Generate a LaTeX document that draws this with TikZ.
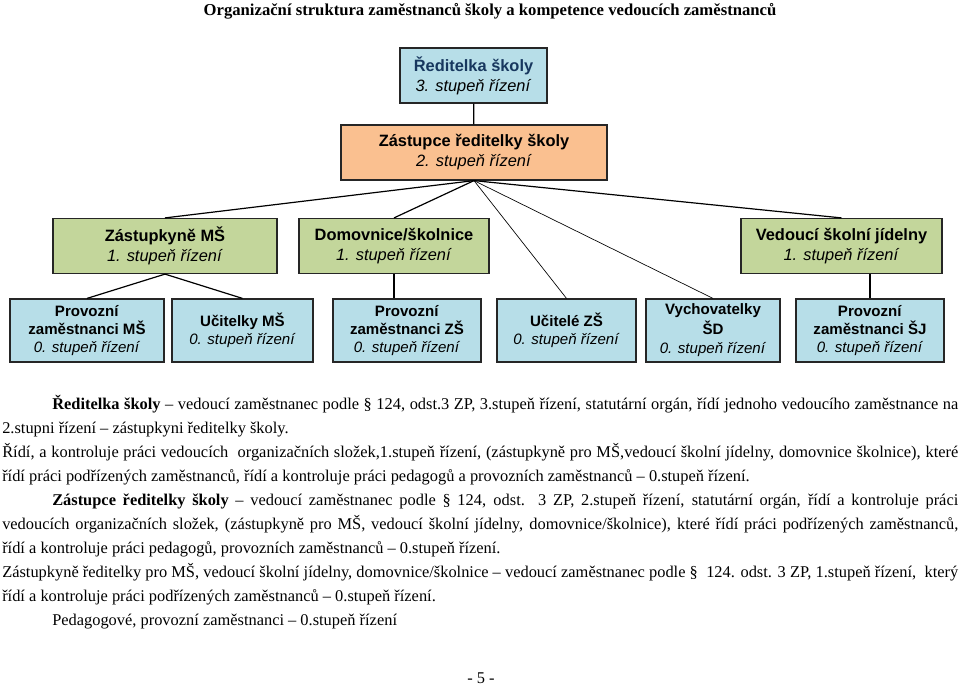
\documentclass[tikz,border=0pt]{standalone}
\usepackage{fontspec}
\setmainfont{Liberation Serif}
\newfontfamily\boxfont{Liberation Sans}
\definecolor{boxblue}{HTML}{B7DEE8}
\definecolor{boxpeach}{HTML}{FAC090}
\definecolor{boxgreen}{HTML}{C3D69B}
\definecolor{headblue}{HTML}{17375E}
\newcommand{\fullline}[2]{\makebox[#1][s]{#2}}
\begin{document}
\begin{tikzpicture}[x=0.75pt, y=-0.75pt,
    orgbox/.style={rectangle, draw=black!85, line width=0.9pt, align=center, inner sep=1pt,
      font=\boxfont\fontsize{12.3}{15}\selectfont},
    bigbox/.style={orgbox, minimum height=41.25pt},
    smallbox/.style={orgbox, minimum height=47.25pt, font=\boxfont\fontsize{11.3}{13.6}\selectfont},
    link/.style={line width=0.9pt},
    thinlink/.style={line width=0.5pt},
    txt/.style={anchor=base west, inner sep=0pt, font=\fontsize{12.3}{18}\selectfont}]
  \useasboundingbox (0,0) rectangle (960,687);
  \node[anchor=base, inner sep=0pt, font=\bfseries\fontsize{12.5}{15}\selectfont] (title) at (490,15)
    {Organizační struktura zaměstnanců školy a kompetence vedoucích zaměstnanců};
  % top of the tree
  \node[bigbox, fill=boxblue, minimum width=110.25pt] (red) at (473.5,75.5)
    {\textbf{\color{headblue}Ředitelka školy}\\\textit{3. stupeň řízení}};
  \node[bigbox, fill=boxpeach, minimum width=199.5pt] (zast) at (474,152.5)
    {\textbf{Zástupce ředitelky školy}\\\textit{2. stupeň řízení}};
  \draw[link](red) -- (zast);
  % 1. stupen
  \node[bigbox, fill=boxgreen, minimum width=168pt] (zms) at (165,246)
    {\textbf{Zástupkyně MŠ}\\\textit{1. stupeň řízení}};
  \node[bigbox, fill=boxgreen, minimum width=142.5pt] (domov) at (394,246)
    {\textbf{Domovnice/školnice}\\\textit{1. stupeň řízení}};
  \node[bigbox, fill=boxgreen, minimum width=150.75pt] (jid) at (841.5,246)
    {\textbf{Vedoucí školní jídelny}\\\textit{1. stupeň řízení}};
  % 0. stupen
  \node[smallbox, fill=boxblue, minimum width=115.5pt] (pms) at (87,330.5)
    {\textbf{Provozní}\\\textbf{zaměstnanci MŠ}\\\textit{0. stupeň řízení}};
  \node[smallbox, fill=boxblue, minimum width=105.75pt] (ums) at (242.5,330.5)
    {\textbf{Učitelky MŠ}\\\textit{0. stupeň řízení}};
  \node[smallbox, fill=boxblue, minimum width=111pt] (pzs) at (407,330.5)
    {\textbf{Provozní}\\\textbf{zaměstnanci ZŠ}\\\textit{0. stupeň řízení}};
  \node[smallbox, fill=boxblue, minimum width=104.25pt] (uzs) at (566.5,330.5)
    {\textbf{Učitelé ZŠ}\\\textit{0. stupeň řízení}};
  \node[smallbox, fill=boxblue, minimum width=100.5pt, font=\boxfont\fontsize{11.3}{14.6}\selectfont] (vsd) at (713,330.5)
    {\textbf{Vychovatelky}\\\textbf{ŠD}\\\textit{0. stupeň řízení}};
  \node[smallbox, fill=boxblue, minimum width=111pt] (psj) at (870,330.5)
    {\textbf{Provozní}\\\textbf{zaměstnanci ŠJ}\\\textit{0. stupeň řízení}};
  \draw[link](zast.south) -- (zms.north);
  \draw[link](zast.south) -- (domov.north);
  \draw[thinlink](zast.south) -- (uzs.north);
  \draw[thinlink](zast.south) -- (vsd.north);
  \draw[link](zast.south) -- (jid.north);
  \draw[link](zms.south) -- (pms.north);
  \draw[link](zms.south) -- (ums.north);
  \draw[link](domov.south) -- (domov.south |- pzs.north);
  \draw[link](psj.north) -- (psj.north |- jid.south);
  % text below
  \node[txt] (l1) at (52,409) {\fullline{679.5pt}{\textbf{Ředitelka školy} – vedoucí zaměstnanec podle § 124, odst.3 ZP, 3.stupeň řízení, statutární orgán, řídí jednoho vedoucího zaměstnance na}};
  \node[txt] (l2) at (2,433) {2.stupni řízení – zástupkyni ředitelky školy.};
  \node[txt] (l3) at (2,457) {\fullline{717pt}{Řídí, a kontroluje práci vedoucích \ organizačních složek,1.stupeň řízení, (zástupkyně pro MŠ,vedoucí školní jídelny, domovnice školnice), které}};
  \node[txt] (l4) at (2,481) {řídí práci podřízených zaměstnanců, řídí a kontroluje práci pedagogů a provozních zaměstnanců – 0.stupeň řízení.};
  \node[txt] (l5) at (52,505) {\fullline{679.5pt}{\textbf{Zástupce ředitelky školy} – vedoucí zaměstnanec podle § 124, odst. 3 ZP, 2.stupeň řízení, statutární orgán, řídí a kontroluje práci}};
  \node[txt] (l6) at (2,529) {\fullline{717pt}{vedoucích organizačních složek, (zástupkyně pro MŠ, vedoucí školní jídelny, domovnice/školnice), které řídí práci podřízených zaměstnanců,}};
  \node[txt] (l7) at (2,553) {řídí a kontroluje práci pedagogů, provozních zaměstnanců – 0.stupeň řízení.};
  \node[txt] (l8) at (2,577) {\fullline{717pt}{Zástupkyně ředitelky pro MŠ, vedoucí školní jídelny, domovnice/školnice – vedoucí zaměstnanec podle § \ 124. odst. 3 ZP, 1.stupeň řízení, \ který}};
  \node[txt] (l9) at (2,601) {řídí a kontroluje práci podřízených zaměstnanců – 0.stupeň řízení.};
  \node[txt] (l10) at (52,625) {Pedagogové, provozní zaměstnanci – 0.stupeň řízení};
  \node[anchor=base, inner sep=0pt, font=\fontsize{12.3}{15}\selectfont] (page) at (481,683) {- 5 -};
\end{tikzpicture}
\end{document}
